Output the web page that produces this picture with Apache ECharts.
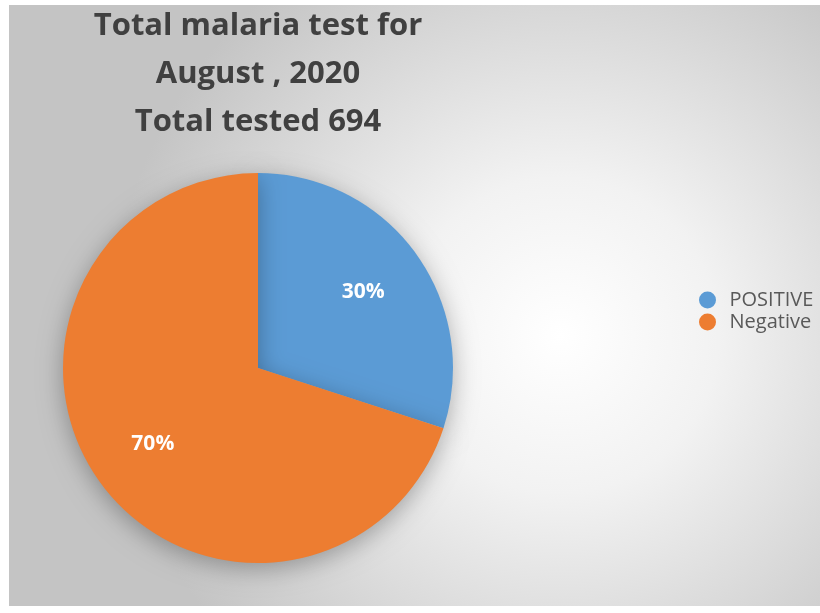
<!DOCTYPE html>
<html>
<head>
<meta charset="utf-8">
<script src="https://cdn.jsdelivr.net/npm/echarts@6/dist/echarts.min.js"></script>
<style>
  html, body { margin: 0; padding: 0; background: #fff; }
  #chart { width: 820px; height: 613px; }
</style>
</head>
<body>
<div id="chart"></div>
<script>
  // results of the malaria tests
  var categories = ['POSITIVE', 'Negative'];
  var shares = [30, 70];
  var colors = ['#5b9bd5', '#ed7d31'];
  var titleLines = ['Total malaria test for', 'August , 2020', 'Total tested 694'];

  var chart = echarts.init(document.getElementById('chart'));

  var pieData = categories.map(function (name, i) {
    return { name: name, value: shares[i], itemStyle: { color: colors[i] } };
  });
  var labelData = categories.map(function (name, i) {
    return { name: name, value: shares[i] };
  });

  var option = {
    animation: false,
    graphic: [{
      type: 'rect',
      z: -10,
      silent: true,
      shape: { x: 9, y: 5, width: 811, height: 601 },
      style: {
        fill: {
          type: 'radial', x: 0.68, y: 0.55, r: 0.75,
          colorStops: [
            { offset: 0, color: '#ffffff' },
            { offset: 0.35, color: '#f2f2f2' },
            { offset: 1, color: '#c4c4c4' }
          ]
        }
      }
    }],
    title: {
      text: titleLines.join('\n'),
      left: 258,
      top: 2,
      padding: 0,
      textAlign: 'center',
      textStyle: {
        fontFamily: 'Open Sans',
        fontWeight: 'bold',
        fontSize: 31,
        lineHeight: 48,
        color: '#404040'
      }
    },
    legend: {
      orient: 'vertical',
      left: 694,
      top: 285,
      icon: 'circle',
      itemWidth: 34,
      itemHeight: 17,
      itemGap: 2,
      textStyle: { fontFamily: 'Open Sans', fontSize: 20, lineHeight: 17, color: '#595959' },
      data: pieData.map(function (d) {
        return { name: d.name, itemStyle: { color: d.itemStyle.color } };
      })
    },
    series: [{
      type: 'pie',
      center: [258, 368],
      radius: [0, 195],
      startAngle: 90,
      clockwise: true,
      label: { show: false },
      labelLine: { show: false },
      emphasis: { disabled: true },
      itemStyle: {
        shadowBlur: 25,
        shadowColor: 'rgba(0,0,0,0.3)',
        shadowOffsetY: 6
      },
      data: pieData
    }, {
      type: 'pie',
      center: [258, 368],
      radius: [60, 194],
      startAngle: 90,
      clockwise: true,
      silent: true,
      itemStyle: { color: 'rgba(0,0,0,0)' },
      label: {
        show: true,
        position: 'inside',
        formatter: '{c}%',
        fontFamily: 'Open Sans',
        fontWeight: 'bold',
        fontSize: 21,
        color: '#ffffff'
      },
      labelLine: { show: false },
      data: labelData
    }]
  };

  chart.setOption(option);
</script>
</body>
</html>
